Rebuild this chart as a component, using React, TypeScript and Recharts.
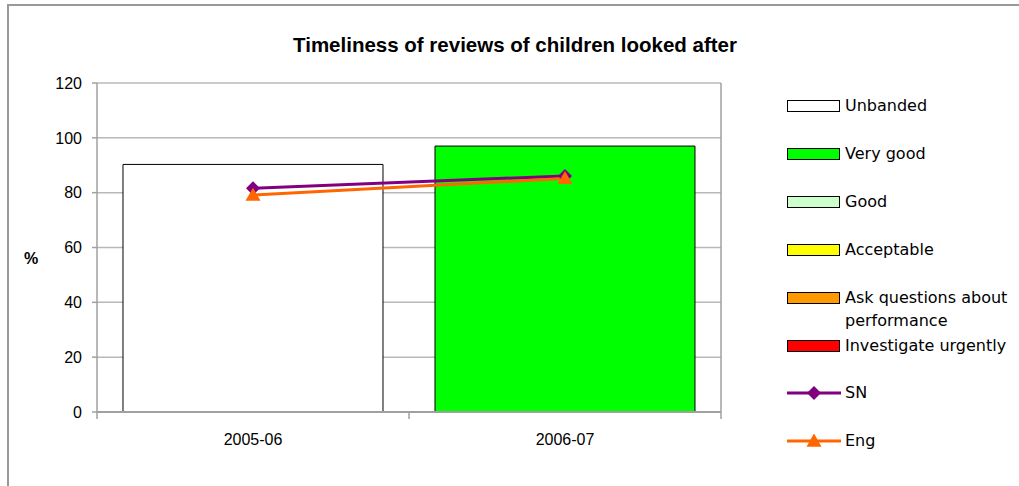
import React from "react";
import {
  ComposedChart,
  Bar,
  Cell,
  Line,
  XAxis,
  YAxis,
  CartesianGrid,
  Legend,
} from "recharts";

const categories = ["2005-06", "2006-07"];
const barValues = [90.3, 97];
const barBands = ["Unbanded", "Very good"];
const sn = [81.6, 86.1];
const eng = [79.1, 85.2];
const yTicks = [0, 20, 40, 60, 80, 100, 120];

const bands = [
  { key: "unbanded", name: "Unbanded", fill: "#FFFFFF" },
  { key: "veryGood", name: "Very good", fill: "#00FF00" },
  { key: "good", name: "Good", fill: "#CCFFCC" },
  { key: "acceptable", name: "Acceptable", fill: "#FFFF00" },
  { key: "ask", name: "Ask questions about\nperformance", fill: "#FF9900" },
  { key: "investigate", name: "Investigate urgently", fill: "#FF0000" },
];

const lineSeries = [
  { key: "sn", name: "SN", color: "#800080", marker: "diamond", values: sn },
  { key: "eng", name: "Eng", color: "#FF6600", marker: "triangle", values: eng },
];

const data = categories.map((c, i) => ({
  category: c,
  value: barValues[i],
  band: barBands[i],
  sn: sn[i],
  eng: eng[i],
}));

const Diamond = (props: any) => {
  const { cx, cy, fill } = props;
  if (cx == null || cy == null) return null;
  const r = 7;
  return (
    <path
      d={`M${cx},${cy - r}L${cx + r},${cy}L${cx},${cy + r}L${cx - r},${cy}Z`}
      fill={fill}
      stroke="none"
    />
  );
};

const Triangle = (props: any) => {
  const { cx, cy, fill } = props;
  if (cx == null || cy == null) return null;
  const r = 7.5;
  return (
    <path
      d={`M${cx},${cy - r}L${cx + r},${cy + r * 0.75}L${cx - r},${cy + r * 0.75}Z`}
      fill={fill}
      stroke="none"
    />
  );
};

const legendFont = "'DejaVu Sans', Verdana, sans-serif";
const axisFont = "'Liberation Sans', Arial, sans-serif";

const X_TICK_SIZE = 6;
const X_TICK_MARGIN = 16;

const XTick = (props: any) => {
  const { x, y, payload, index, visibleTicksCount } = props;
  const axisY = y - X_TICK_SIZE - X_TICK_MARGIN;
  const off = payload && typeof payload.offset === "number" ? payload.offset : 0;
  const last = index === (visibleTicksCount ?? categories.length) - 1;
  return (
    <g>
      {off > 0 && (
        <line x1={x - off} y1={axisY} x2={x - off} y2={axisY + 7} stroke="#a0a0a0" strokeWidth={1.5} />
      )}
      {off > 0 && last && (
        <line x1={x + off} y1={axisY} x2={x + off} y2={axisY + 7} stroke="#a0a0a0" strokeWidth={1.5} />
      )}
      <text x={x} y={y} dy="0.71em" textAnchor="middle" fill="#000" fontSize={16} fontFamily={axisFont}>
        {payload.value}
      </text>
    </g>
  );
};

const LegendContent = () => {
  const rows: any[] = [
    ...bands.map((s) => ({ type: "rect", ...s })),
    ...lineSeries.map((s) => ({ type: "line", ...s })),
  ];
  return (
    <div style={{ position: "relative", width: 0, height: 0, overflow: "visible" }}>
      {rows.map((r, i) => {
        const cy = i * 47.9;
        const lines = String(r.name).split("\n");
        return (
          <div key={r.key} style={{ position: "absolute", left: 0, top: cy, width: 232 }}>
            <svg width={54} height={16} style={{ position: "absolute", left: 0, top: -8 }}>
              {r.type === "rect" ? (
                <rect x={0.5} y={2.5} width={52} height={11} fill={r.fill} stroke="#000" strokeWidth={1} />
              ) : (
                <g>
                  <line x1={0} y1={8} x2={54} y2={8} stroke={r.color} strokeWidth={3} />
                  {r.marker === "diamond" ? (
                    <Diamond cx={27} cy={8} fill={r.color} />
                  ) : (
                    <Triangle cx={27} cy={8} fill={r.color} />
                  )}
                </g>
              )}
            </svg>
            <div
              style={{
                position: "absolute",
                left: 58,
                top: -12,
                fontFamily: legendFont,
                fontSize: 16,
                lineHeight: "23px",
                color: "#000",
                whiteSpace: "nowrap",
              }}
            >
              {lines.map((l, j) => (
                <div key={j}>{l}</div>
              ))}
            </div>
          </div>
        );
      })}
    </div>
  );
};

const bandFill = (name: string) => {
  const b = bands.find((x) => x.name === name);
  return b ? b.fill : "#FFFFFF";
};

export default function App() {
  return (
    <div
      style={{
        position: "absolute",
        left: 0,
        top: 0,
        width: 1019,
        height: 486,
        background: "#fff",
        overflow: "hidden",
      }}
    >
      <div style={{ position: "absolute", left: 7, top: 4, width: 1012, height: 2, background: "#999" }} />
      <div style={{ position: "absolute", left: 7, top: 4, width: 2, height: 482, background: "#999" }} />
      <div
        style={{
          position: "absolute",
          left: 0,
          top: 33,
          width: 1030,
          textAlign: "center",
          fontFamily: axisFont,
          fontWeight: "bold",
          fontSize: 20.5,
          color: "#000",
        }}
      >
        Timeliness of reviews of children looked after
      </div>
      <div
        style={{
          position: "absolute",
          left: 24,
          top: 250,
          fontFamily: axisFont,
          fontWeight: "bold",
          fontSize: 16,
          color: "#000",
        }}
      >
        %
      </div>
      <div style={{ position: "absolute", left: 0, top: 0 }}>
        <ComposedChart
          width={1019}
          height={486}
          data={data}
          margin={{ top: 83, right: 297, bottom: 44, left: 0 }}
          barCategoryGap="8.33%"
        >
          <CartesianGrid vertical={false} stroke="#b8b8b8" strokeWidth={1.5} />
          <XAxis
            dataKey="category"
            height={30}
            tickLine={false}
            tickSize={X_TICK_SIZE}
            tickMargin={X_TICK_MARGIN}
            axisLine={{ stroke: "#a0a0a0", strokeWidth: 2 }}
            tick={<XTick />}
            interval={0}
          />
          <YAxis
            width={97}
            domain={[0, 120]}
            ticks={yTicks}
            interval={0}
            tickSize={5}
            tickMargin={10}
            axisLine={{ stroke: "#a0a0a0", strokeWidth: 1.5 }}
            tickLine={{ stroke: "#a0a0a0", strokeWidth: 1.5 }}
            tick={{ fill: "#000", fontSize: 16, fontFamily: axisFont }}
          />
          <YAxis
            yAxisId="right"
            orientation="right"
            width={1}
            domain={[0, 120]}
            tick={false}
            tickLine={false}
            axisLine={{ stroke: "#a0a0a0", strokeWidth: 1.5 }}
          />
          <Legend
            verticalAlign="top"
            align="right"
            content={() => <LegendContent />}
            wrapperStyle={{ position: "absolute", left: 787, top: 106, width: 0, height: 0 }}
          />
          <Bar dataKey="value" name="Band" fill="#fff" stroke="#000" strokeWidth={1} isAnimationActive={false}>
            {data.map((d, i) => (
              <Cell key={i} fill={bandFill(d.band)} />
            ))}
          </Bar>
          {lineSeries.map((s) => (
            <Line
              key={s.key}
              dataKey={s.key}
              name={s.name}
              stroke={s.color}
              strokeWidth={3}
              dot={s.marker === "diamond" ? <Diamond fill={s.color} /> : <Triangle fill={s.color} />}
              activeDot={false}
              isAnimationActive={false}
            />
          ))}
        </ComposedChart>
      </div>
    </div>
  );
}
